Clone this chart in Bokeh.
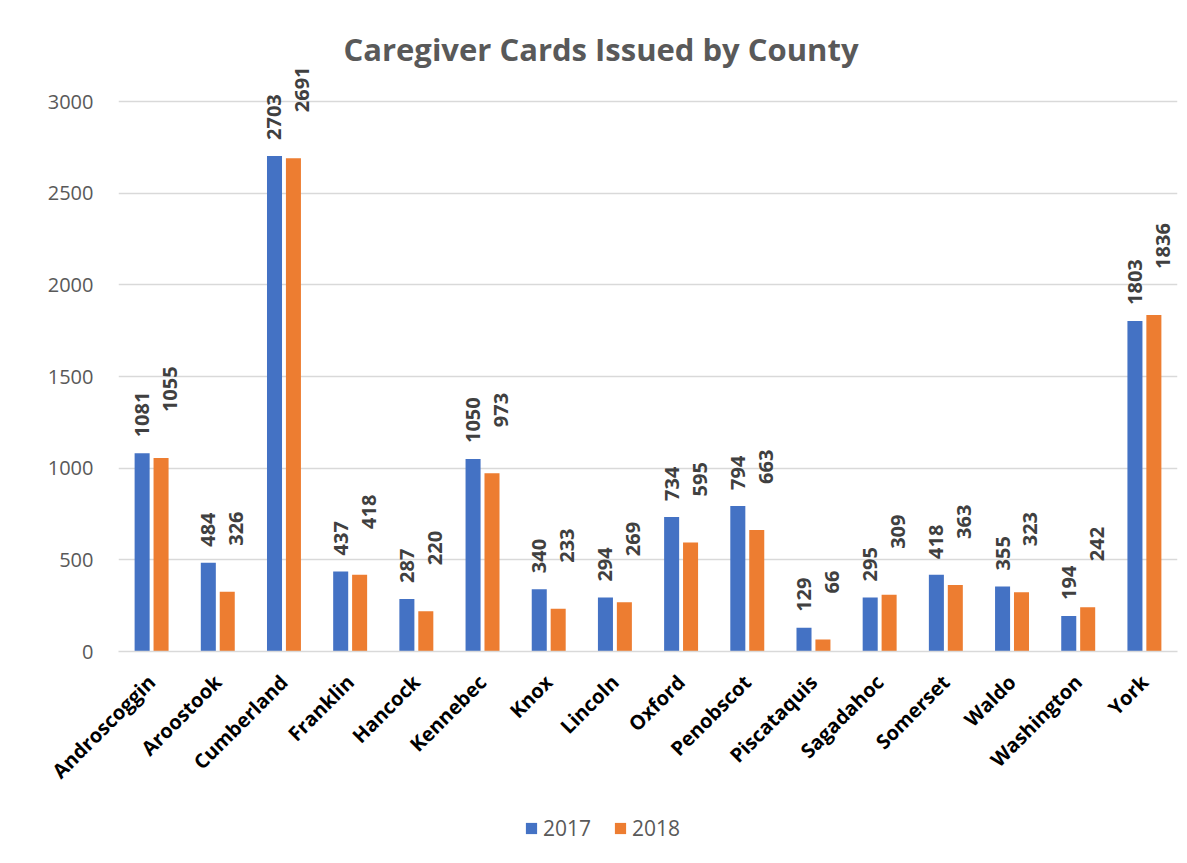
import math
from bokeh.plotting import figure
from bokeh.layouts import column
from bokeh.models import ColumnDataSource, LabelSet, Legend, LegendItem, FixedTicker, Range1d, Title
from bokeh.transform import dodge
from bokeh.core.properties import value
from bokeh.embed import file_html
from bokeh.resources import INLINE

counties = ["Androscoggin", "Aroostook", "Cumberland", "Franklin", "Hancock", "Kennebec",
            "Knox", "Lincoln", "Oxford", "Penobscot", "Piscataquis", "Sagadahoc",
            "Somerset", "Waldo", "Washington", "York"]
cards_2017 = [1081, 484, 2703, 437, 287, 1050, 340, 294, 734, 794, 129, 295, 418, 355, 194, 1803]
cards_2018 = [1055, 326, 2691, 418, 220, 973, 233, 269, 595, 663, 66, 309, 363, 323, 242, 1836]
series = ["2017", "2018"]
y_ticks = [0, 500, 1000, 1500, 2000, 2500, 3000]

BLUE = "#4472C4"
ORANGE = "#ED7D31"
FONT = "Open Sans"
W = 1179

src = ColumnDataSource(data=dict(
    county=counties,
    y2017=cards_2017,
    y2018=cards_2018,
    t2017=[str(v) for v in cards_2017],
    t2018=[str(v) for v in cards_2018],
))

# frame: 3000 gridline ~37px below frame top, leaving room for the rotated value labels
p = figure(x_range=counties, y_range=Range1d(0, 3202), width=W, height=800,
           output_backend="svg", toolbar_location=None,
           min_border_left=118, min_border_right=2, min_border_top=64, min_border_bottom=149)

p.title = Title(text="Caregiver Cards Issued by County", align="left", offset=225,
                text_font=FONT, text_font_size="31px", text_font_style="bold",
                text_color="#595959", standoff=-10)

r1 = p.vbar(x=dodge("county", -0.143, range=p.x_range), top="y2017", width=0.227,
            source=src, fill_color=BLUE, line_color=None)
r2 = p.vbar(x=dodge("county", 0.143, range=p.x_range), top="y2018", width=0.227,
            source=src, fill_color=ORANGE, line_color=None)

lab_style = dict(angle=math.pi / 2, text_align="left", text_baseline="middle",
                 text_font=value(FONT), text_font_size=value("20px"),
                 text_font_style=value("bold"), text_color="#404040", source=src)
p.add_layout(LabelSet(x=dodge("county", -0.143, range=p.x_range), y="y2017", text="t2017",
                      y_offset=16, **lab_style))
p.add_layout(LabelSet(x=dodge("county", 0.143, range=p.x_range), y="y2018", text="t2018",
                      x_offset=9, y_offset=46, **lab_style))

# axes
p.yaxis.ticker = FixedTicker(ticks=y_ticks)
p.yaxis.axis_line_color = None
p.yaxis.major_tick_line_color = None
p.yaxis.minor_tick_line_color = None
p.yaxis.major_label_text_font = FONT
p.yaxis.major_label_text_font_size = "20px"
p.yaxis.major_label_text_color = "#595959"
p.yaxis.major_label_standoff = 19

p.xaxis.axis_line_color = "#d9d9d9"
p.xaxis.axis_line_width = 1.5
p.xaxis.major_tick_line_color = None
p.xaxis.minor_tick_line_color = None
p.xaxis.major_label_orientation = math.pi / 4
p.xaxis.major_label_text_font = FONT
p.xaxis.major_label_text_font_size = "20px"
p.xaxis.major_label_text_font_style = "bold"
p.xaxis.major_label_text_color = "#000000"
p.xaxis.major_label_standoff = 21

p.xgrid.grid_line_color = None
p.ygrid.grid_line_color = "#d9d9d9"
p.ygrid.grid_line_width = 1.5
p.x_range.range_padding = 0
p.outline_line_color = None

# legend strip below the chart (swatch renderers share the bar colours;
# their single bar has zero height, so only the legend swatches show)
lg = figure(width=W, height=55, output_backend="svg", toolbar_location=None,
            x_range=Range1d(0, 1), y_range=Range1d(0, 1),
            x_axis_type=None, y_axis_type=None,
            min_border_left=0, min_border_right=0, min_border_top=0, min_border_bottom=0)
lg.outline_line_color = None
lg.xgrid.visible = False
lg.ygrid.visible = False
swatch = ColumnDataSource(data=dict(x=[0.5], top=[0]))
g1 = lg.vbar(x="x", top="top", width=0.01, source=swatch, fill_color=BLUE, line_color=None)
g2 = lg.vbar(x="x", top="top", width=0.01, source=swatch, fill_color=ORANGE, line_color=None)
legend = Legend(items=[LegendItem(label=series[0], renderers=[g1]),
                       LegendItem(label=series[1], renderers=[g2])],
                location=(406, 13), orientation="horizontal",
                label_text_font=FONT, label_text_font_size="21px",
                label_text_color="#595959", glyph_width=14, glyph_height=14,
                label_standoff=5, spacing=22, padding=0, margin=0,
                border_line_color=None, background_fill_alpha=0)
lg.add_layout(legend)

layout = column(p, lg, spacing=0)
open("out.html", "w").write(file_html(layout, INLINE))
